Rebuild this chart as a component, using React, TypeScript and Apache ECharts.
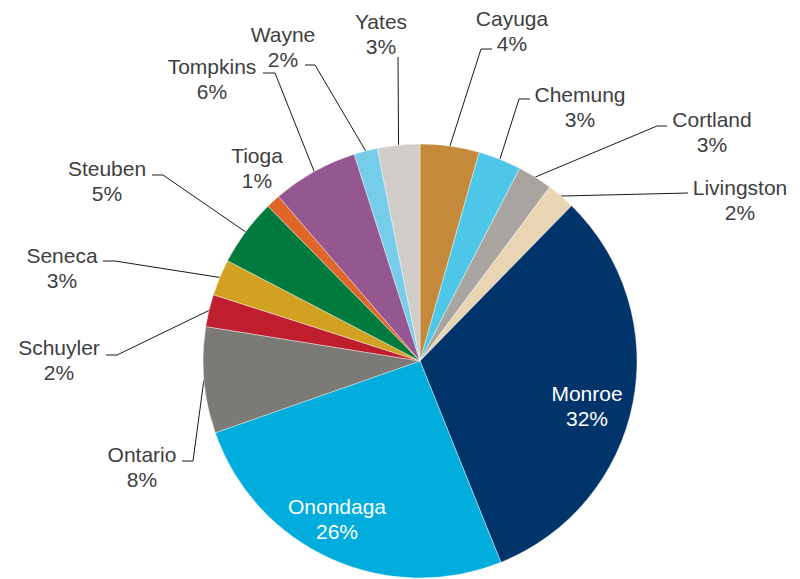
import React, { useEffect, useRef } from 'react';
import * as echarts from 'echarts';

// ---- data (clockwise from 12 o'clock) ----
const categories = ['Cayuga', 'Chemung', 'Cortland', 'Livingston', 'Monroe', 'Onondaga', 'Ontario', 'Schuyler', 'Seneca', 'Steuben', 'Tioga', 'Tompkins', 'Wayne', 'Yates'];
const shares = [4.4, 3.2, 2.6, 2.1, 31.6, 25.7, 7.9, 2.4, 2.7, 5.0, 1.05, 6.4, 1.75, 3.15];
const sliceColors = ['#C4893A', '#4DC6E7', '#A8A49F', '#E9D5B4', '#00346A', '#00ADDC', '#7B7A75', '#BE1E2D', '#D2A122', '#007A3D', '#DF6529', '#955790', '#75CDEA', '#D1CDC9'];
const insideLabels = ['Monroe', 'Onondaga'];
const noLeaderLabels = ['Tioga'];

// ---- label placement (text block centre, leader elbow & end) ----
type Spot = { x: number; y: number; elbow?: number[]; end?: number[] };
const labelSpots: Record<string, Spot> = {
  Cayuga: { x: 512, y: 30.5, elbow: [481, 49], end: [492, 49] },
  Chemung: { x: 580, y: 107, elbow: [519, 99], end: [530, 99] },
  Cortland: { x: 712, y: 132, elbow: [657, 126], end: [667, 126] },
  Livingston: { x: 740, y: 200, elbow: [688, 193], end: [688, 193] },
  Monroe: { x: 587, y: 406 },
  Onondaga: { x: 337, y: 518.5 },
  Ontario: { x: 142, y: 466.5, elbow: [193, 461], end: [182, 461] },
  Schuyler: { x: 59, y: 360, elbow: [117, 355], end: [106, 355] },
  Seneca: { x: 62, y: 267.5, elbow: [115, 261], end: [103, 261] },
  Steuben: { x: 107, y: 181, elbow: [163, 175], end: [152, 175] },
  Tioga: { x: 257, y: 167.5 },
  Tompkins: { x: 212, y: 79, elbow: [275, 73], end: [263, 73] },
  Wayne: { x: 283, y: 46.5, elbow: [315, 65], end: [305, 65] },
  Yates: { x: 381, y: 34, elbow: [398, 57], end: [398, 57] },
};

const CENTER = [420, 361];
const RADIUS = 217;
const FONT = '"Liberation Sans", Arial, sans-serif';

function edgePoint(index: number): number[] {
  const total = shares.reduce((a, b) => a + b, 0);
  let before = 0;
  for (let i = 0; i < index; i++) before += shares[i];
  const mid = ((before + shares[index] / 2) / total) * Math.PI * 2;
  return [CENTER[0] + RADIUS * Math.sin(mid), CENTER[1] - RADIUS * Math.cos(mid)];
}

export default function App() {
  const ref = useRef<HTMLDivElement>(null);
  useEffect(() => {
    if (!ref.current) return;
    const chart = echarts.init(ref.current, undefined, { renderer: 'svg' });
    const data = categories.map((name, i) => {
      const inside = insideLabels.includes(name);
      const noLine = noLeaderLabels.includes(name);
      return {
        name,
        value: shares[i],
        itemStyle: { color: sliceColors[i] },
        label: inside ? { color: '#ffffff' } : undefined,
        labelLine: { show: !(inside || noLine) },
      };
    });
    chart.setOption({
      animation: false,
      backgroundColor: '#ffffff',
      series: [
        {
          type: 'pie',
          center: CENTER,
          radius: RADIUS,
          startAngle: 90,
          clockwise: true,
          percentPrecision: 4,
          avoidLabelOverlap: false,
          itemStyle: { borderColor: '#ffffff', borderWidth: 0.4 },
          label: {
            show: true,
            position: 'outside',
            fontFamily: FONT,
            fontSize: 21,
            lineHeight: 25,
            color: '#404040',
            formatter: (p: any) => `${p.name}\n${Math.round(p.percent)}%`,
          },
          labelLine: {
            show: true,
            lineStyle: { color: '#1a1a1a', width: 1 },
          },
          labelLayout: (params: any) => {
            const name = categories[params.dataIndex];
            const s = labelSpots[name];
            if (!s) return {};
            const out: any = { x: s.x, y: s.y, align: 'center', verticalAlign: 'middle', hideOverlap: false, moveOverlap: false };
            if (s.end && s.elbow) {
              const start = edgePoint(params.dataIndex);
              out.labelLinePoints = [start, s.elbow, s.end];
            }
            return out;
          },
          data,
        },
      ],
    });
    return () => chart.dispose();
  }, []);
  return <div ref={ref} style={{ position: 'absolute', left: 0, top: 0, width: 800, height: 579 }} />;
}
